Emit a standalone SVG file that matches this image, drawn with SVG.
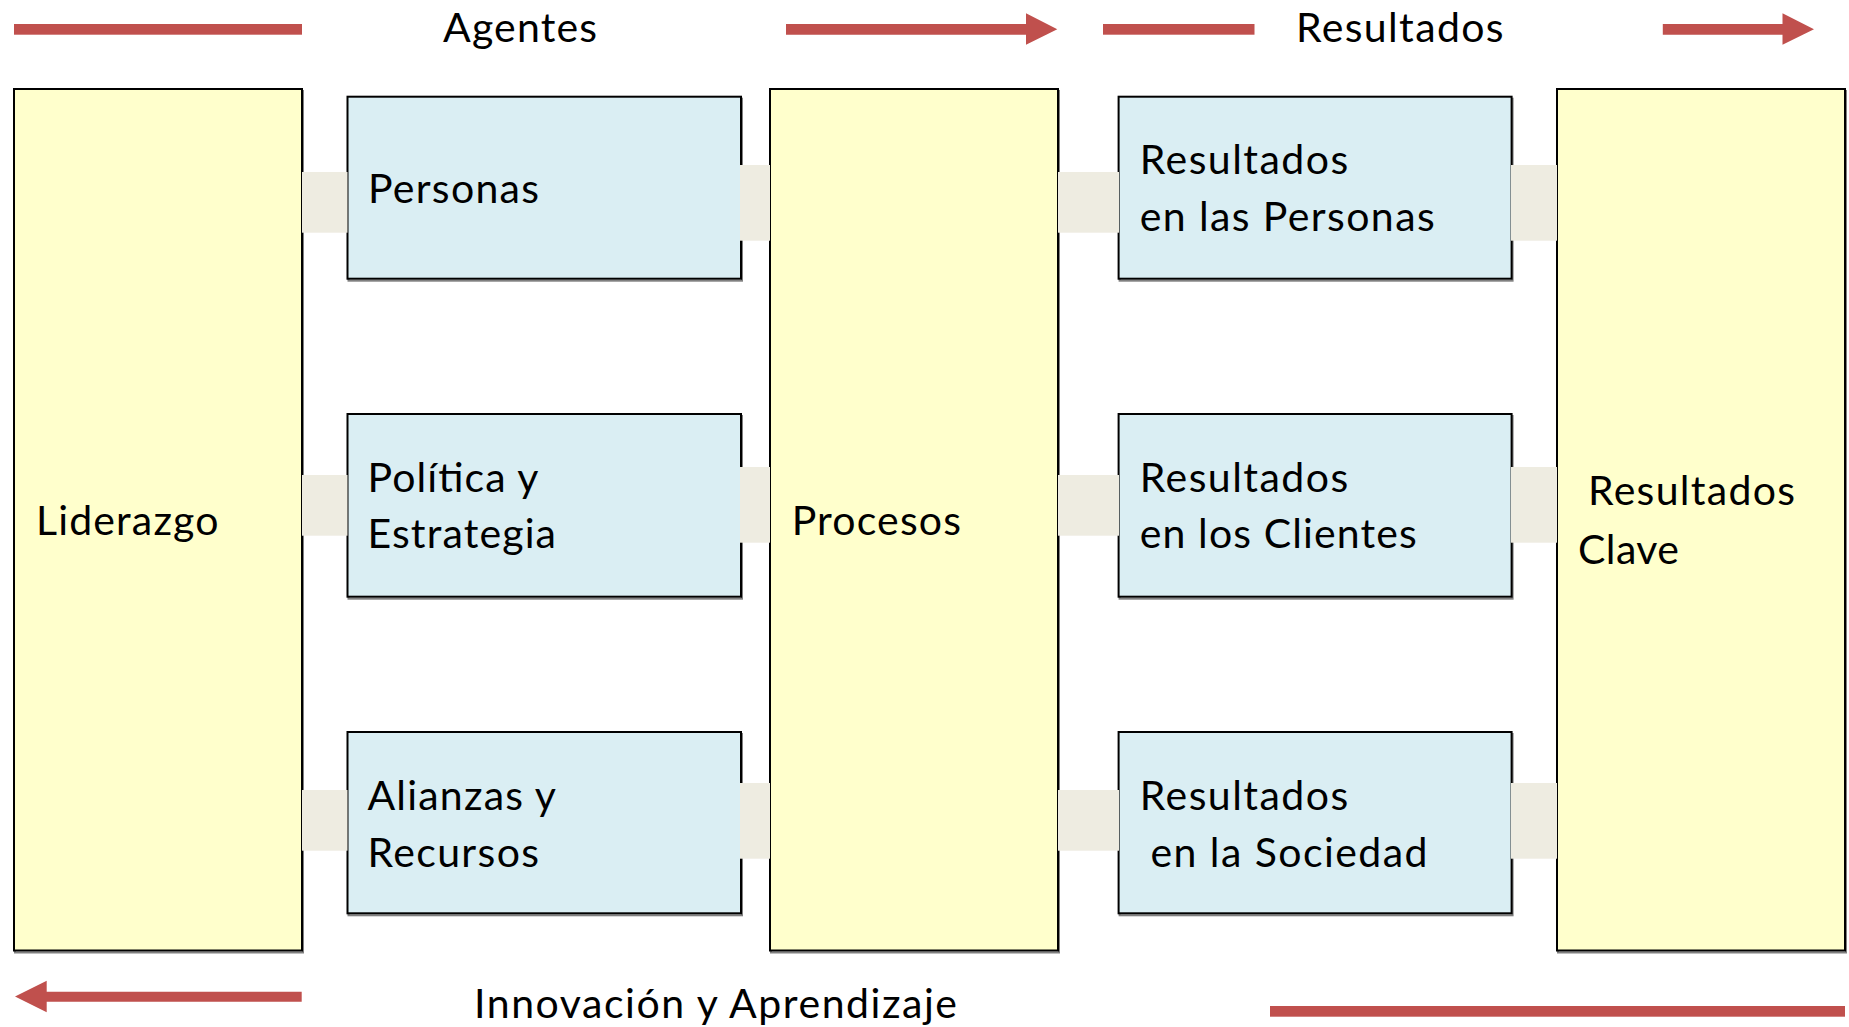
<svg xmlns="http://www.w3.org/2000/svg" width="1849" height="1027" viewBox="0 0 1849 1027">
<style>
  .tall { fill: #FFFFCC; stroke: #000000; stroke-width: 2; }
  .small { fill: #DAEEF3; stroke: #000000; stroke-width: 2; }
  .sh { fill: none; stroke: #808080; stroke-width: 2; }
  .conn { fill: #EEECE1; stroke: none; }
  .red { fill: #C0504D; stroke: none; }
  text { font-family: Lato, "Open Sans", sans-serif; font-size: 41px; fill: #000000; }
</style>
<rect x="0" y="0" width="1849" height="1027" fill="#FFFFFF"/>

<g id="flow-arrows">
  <rect class="red" x="14" y="24" width="288" height="10.7"/>
  <polygon class="red" points="786,24 1026,24 1026,13.3 1057.3,29.3 1026,44.7 1026,34.7 786,34.7"/>
  <rect class="red" x="1103" y="24" width="151.5" height="10.7"/>
  <polygon class="red" points="1662.8,24 1782.5,24 1782.5,13.3 1814,29.3 1782.5,44.7 1782.5,34.7 1662.8,34.7"/>
  <polygon class="red" points="301.7,991.7 46.7,991.7 46.7,980.7 15,996.5 46.7,1012.3 46.7,1001.7 301.7,1001.7"/>
  <rect class="red" x="1270" y="1006" width="575" height="10.7"/>
</g>

<g id="headings">
  <text x="443" y="41.7" textLength="154">Agentes</text>
  <text x="1296" y="41.7" textLength="207.6">Resultados</text>
  <text x="474" y="1018" textLength="483">Innovación y Aprendizaje</text>
</g>

<g id="liderazgo">
  <rect class="sh" x="15" y="91" width="288" height="861.5"/>
  <rect class="tall" x="14" y="89" width="288" height="861.5"/>
  <text x="36" y="535" textLength="182.5">Liderazgo</text>
</g>

<g id="procesos">
  <rect class="sh" x="771" y="91" width="288" height="861.5"/>
  <rect class="tall" x="770" y="89" width="288" height="861.5"/>
  <text x="791.7" y="535" textLength="169.3">Procesos</text>
</g>

<g id="resultados-clave">
  <rect class="sh" x="1558" y="91" width="288" height="861.5"/>
  <rect class="tall" x="1557" y="89" width="288" height="861.5"/>
  <text x="1588" y="505" textLength="207">Resultados</text>
  <text x="1578" y="564.3" textLength="101">Clave</text>
</g>

<g id="personas">
  <rect class="sh" x="348.5" y="98.7" width="393.5" height="182"/>
  <rect class="small" x="347.5" y="96.7" width="393.5" height="182"/>
  <text x="368" y="203" textLength="171">Personas</text>
</g>

<g id="politica">
  <rect class="sh" x="348.5" y="416" width="393.5" height="182.7"/>
  <rect class="small" x="347.5" y="414" width="393.5" height="182.7"/>
  <text x="367.5" y="491.7" textLength="171">Política y</text>
  <text x="367.5" y="548.3" textLength="188.5">Estrategia</text>
</g>

<g id="alianzas">
  <rect class="sh" x="348.5" y="734" width="393.5" height="181.3"/>
  <rect class="small" x="347.5" y="732" width="393.5" height="181.3"/>
  <text x="367.5" y="810" textLength="188.5">Alianzas y</text>
  <text x="367.5" y="866.7" textLength="171.5">Recursos</text>
</g>

<g id="resultados-personas">
  <rect class="sh" x="1119.6" y="98.7" width="393" height="182"/>
  <rect class="small" x="1118.6" y="96.7" width="393" height="182"/>
  <text x="1139.7" y="174" textLength="208.5">Resultados</text>
  <text x="1139.7" y="230.7" textLength="295">en las Personas</text>
</g>

<g id="resultados-clientes">
  <rect class="sh" x="1119.6" y="416" width="393" height="182.7"/>
  <rect class="small" x="1118.6" y="414" width="393" height="182.7"/>
  <text x="1139.7" y="491.7" textLength="208.5">Resultados</text>
  <text x="1139.7" y="548.3" textLength="277">en los Clientes</text>
</g>

<g id="resultados-sociedad">
  <rect class="sh" x="1119.6" y="734" width="393" height="181.3"/>
  <rect class="small" x="1118.6" y="732" width="393" height="181.3"/>
  <text x="1139.7" y="810" textLength="208.5">Resultados</text>
  <text x="1150.5" y="866.7" textLength="277">en la Sociedad</text>
</g>

<g id="connectors">
  <rect class="conn" x="302" y="172" width="45.5" height="60.7"/>
  <rect class="conn" x="740" y="165" width="30" height="75.7"/>
  <rect class="conn" x="1058" y="172" width="61" height="60.7"/>
  <rect class="conn" x="1511" y="165" width="46" height="75.7"/>

  <rect class="conn" x="302" y="475" width="45.5" height="60.7"/>
  <rect class="conn" x="740" y="467" width="30" height="75.7"/>
  <rect class="conn" x="1058" y="475" width="61" height="60.7"/>
  <rect class="conn" x="1511" y="467" width="46" height="75.7"/>

  <rect class="conn" x="302" y="790" width="45.5" height="60.7"/>
  <rect class="conn" x="740" y="783" width="30" height="75.7"/>
  <rect class="conn" x="1058" y="790" width="61" height="60.7"/>
  <rect class="conn" x="1511" y="783" width="46" height="75.7"/>
</g>
</svg>
